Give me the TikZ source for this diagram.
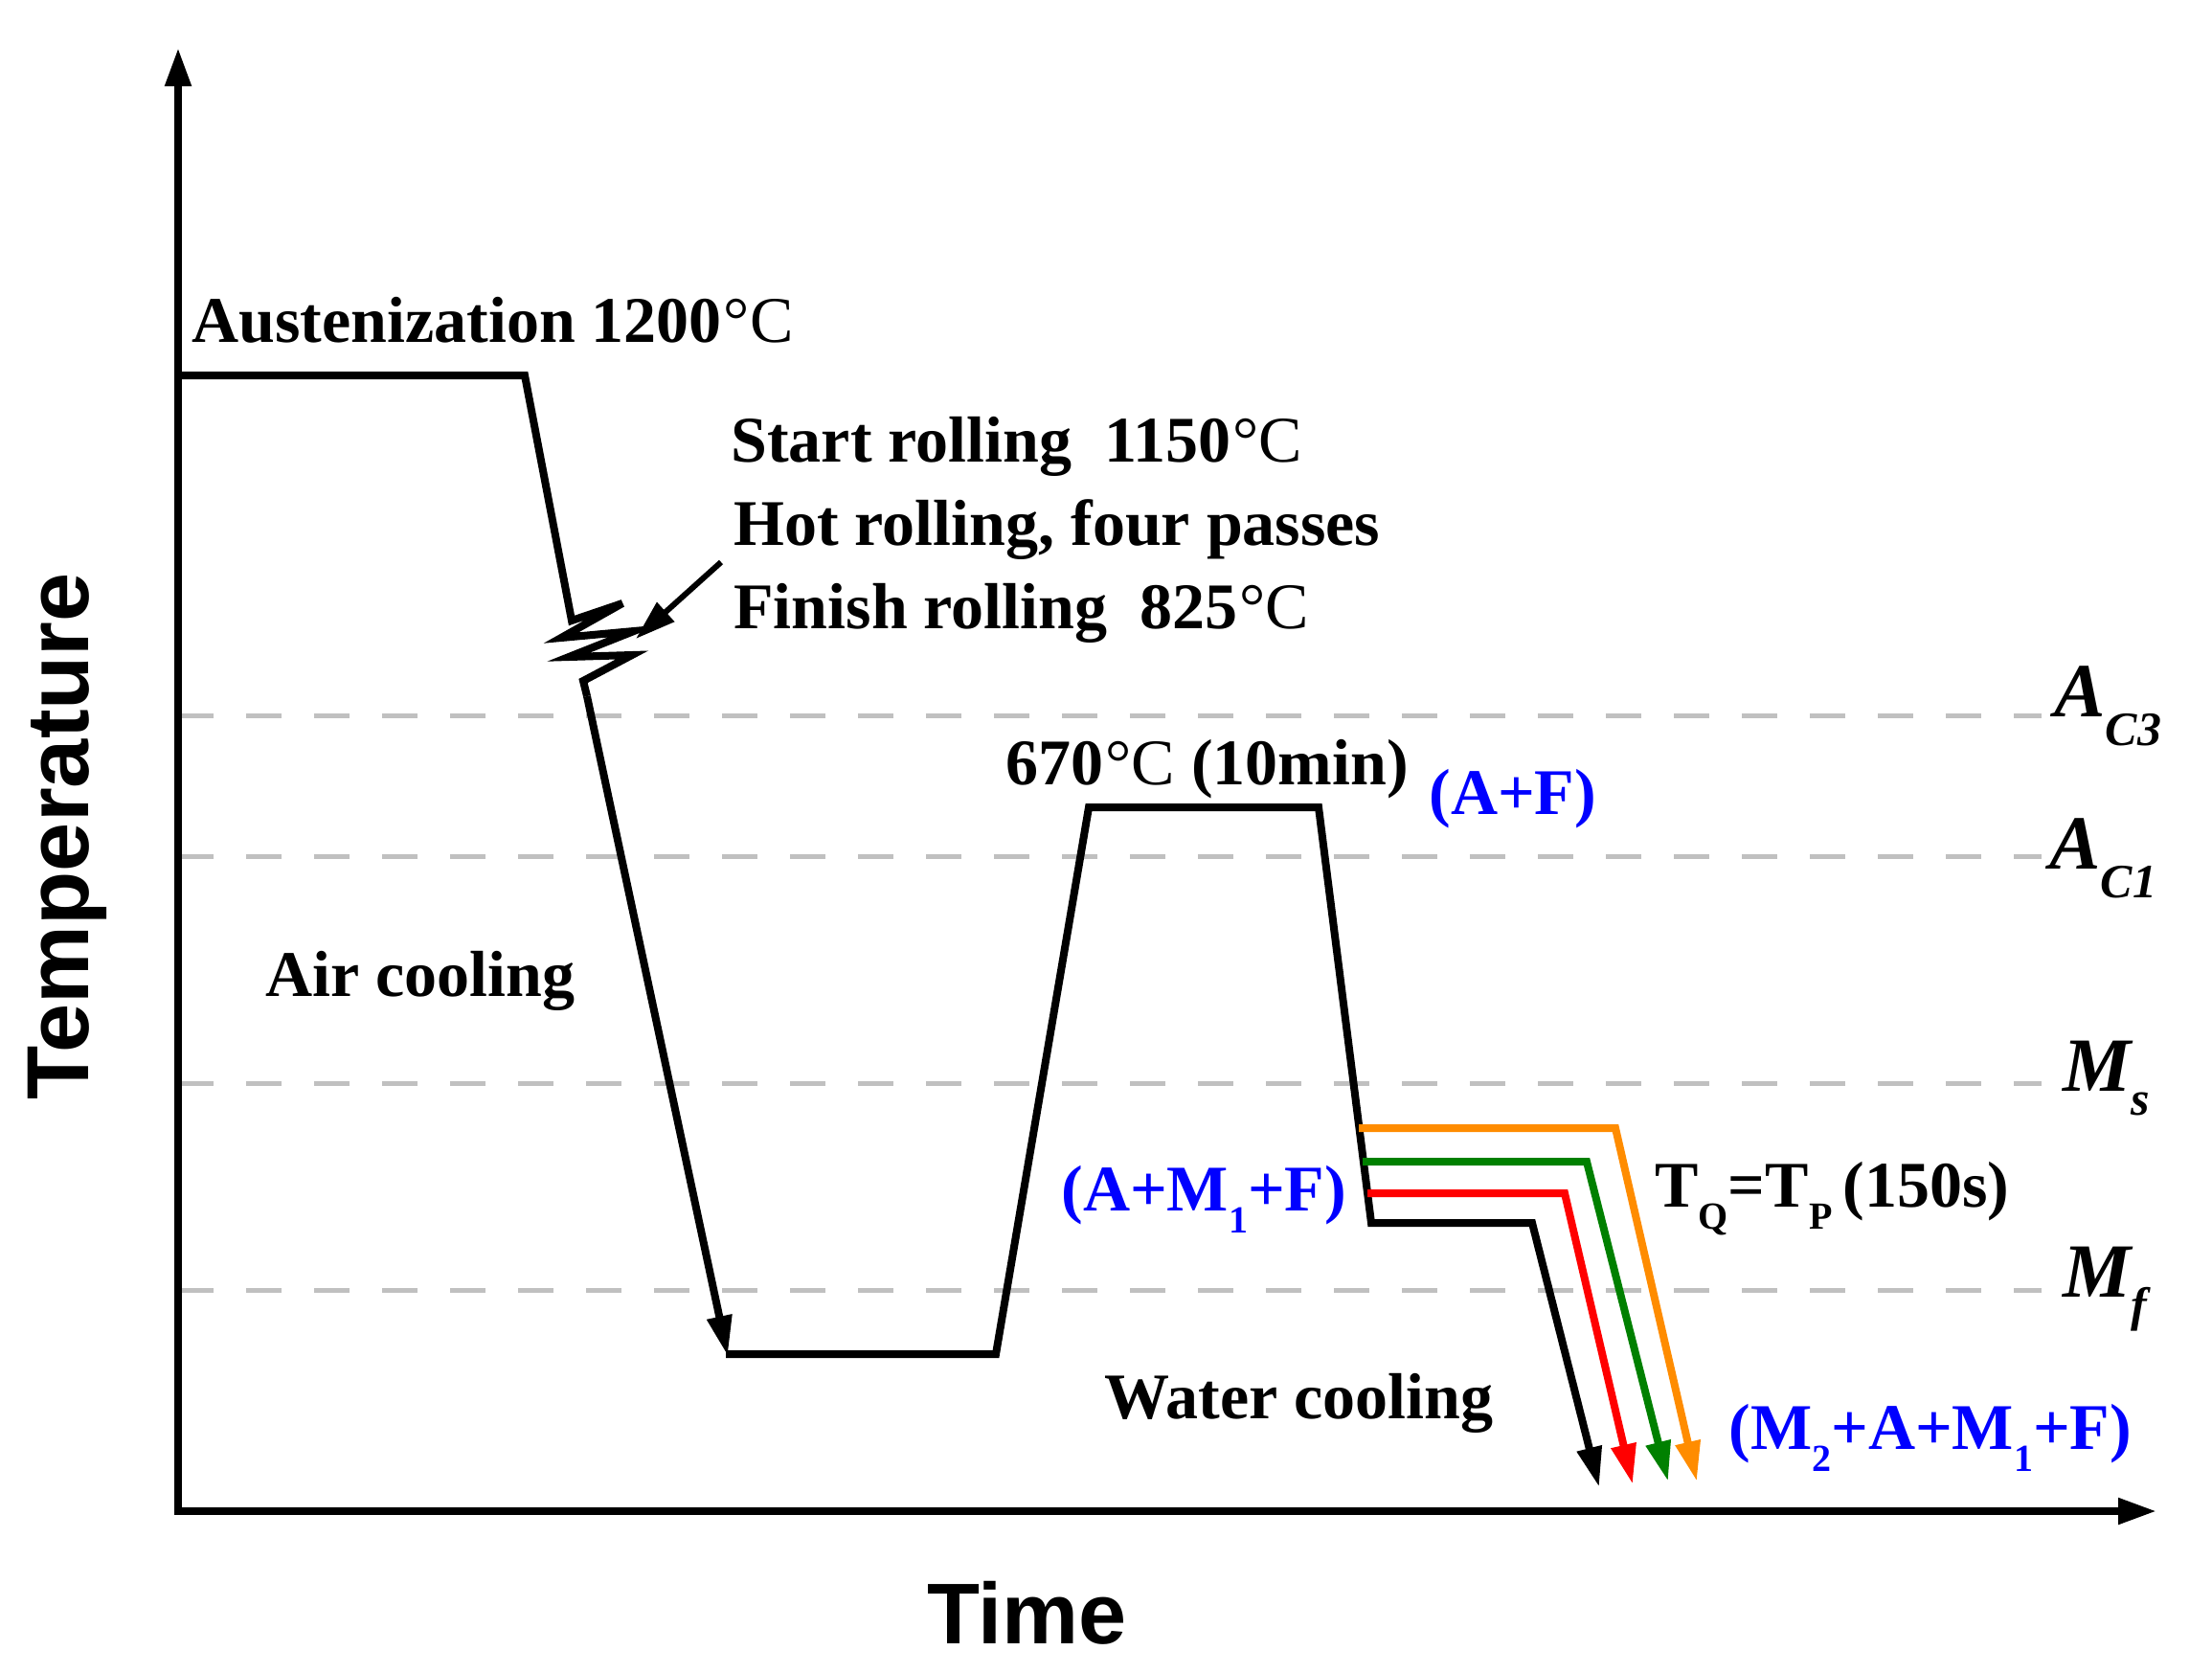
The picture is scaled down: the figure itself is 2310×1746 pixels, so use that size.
\documentclass[tikz,border=0pt]{standalone}
\usepackage{fontspec}
\setmainfont{Liberation Serif}
\setsansfont{Liberation Sans}
\usetikzlibrary{arrows.meta}
\definecolor{isogray}{RGB}{192,192,192}
\definecolor{qorange}{RGB}{255,140,0}
\definecolor{qgreen}{RGB}{0,128,0}
\definecolor{qred}{RGB}{255,0,0}
\definecolor{qblue}{RGB}{0,0,255}
\newcommand\lblfont{\fontsize{34}{40}\selectfont\bfseries}
\newcommand\degC{\kern0.03em{\mdseries\textdegree C}}
\newcommand\sbs[1]{\raisebox{-0.34em}{\fontsize{20}{20}\selectfont #1}}
\newcommand\critA[1]{{\fontsize{40}{44}\selectfont\bfseries\itshape A\raisebox{-15pt}{\fontsize{25}{28}\selectfont #1}}}
\newcommand\critM[1]{{\fontsize{40}{44}\selectfont\bfseries\itshape M\raisebox{-12.5pt}{\fontsize{25}{28}\selectfont #1}}}
\begin{document}
\begin{tikzpicture}[x=0.5pt,y=-0.5pt,
  curve/.style={line width=4pt},
  arr/.style={-{Triangle[length=21pt,width=12.5pt]}},
  axisline/.style={line width=4pt,{Triangle[length=20pt,width=13pt]}-{Triangle[length=20pt,width=13pt]}},
  isoline/.style={isogray,line width=2.5pt,dash pattern=on 18.5pt off 17pt},
  txt/.style={inner sep=0pt,anchor=base west,font=\lblfont},
  phase/.style={txt,text=qblue},
  crit/.style={inner sep=0pt,anchor=base west}]
\useasboundingbox (0,0) rectangle (2310,1746);
% coordinates
\coordinate (o) at (186,1578);
\coordinate (ytop) at (186,50);
\coordinate (xend) at (2252,1578);
% isotherms
\coordinate (ac3a) at (186,747);  \coordinate (ac3b) at (2132,747);
\coordinate (ac1a) at (186,894);  \coordinate (ac1b) at (2132,894);
\coordinate (msa)  at (186,1131); \coordinate (msb)  at (2132,1131);
\coordinate (mfa)  at (186,1347); \coordinate (mfb)  at (2132,1347);
\draw[isoline] (ac3a) -- (ac3b);
\draw[isoline] (ac1a) -- (ac1b);
\draw[isoline] (msa) -- (msb);
\draw[isoline] (mfa) -- (mfb);
% main path
\coordinate (p0) at (186,392);
\coordinate (p1) at (548,392);
\coordinate (z0) at (597,648);
\coordinate (z1) at (650,630);
\coordinate (z2) at (586,666);
\coordinate (z3) at (662,659);
\coordinate (z4) at (594,686);
\coordinate (z5) at (660,684);
\coordinate (z6) at (609,711);
\coordinate (z7) at (613,727);
\coordinate (p2) at (760,1416);
\coordinate (p2b) at (758,1414);
\coordinate (p3) at (1040,1414);
\coordinate (p4) at (1137,843);
\coordinate (p5) at (1377,843);
\coordinate (p6) at (1432,1277);
\coordinate (b1) at (1600,1277);
\coordinate (b2) at (1670,1553);
\draw[curve] (p0) -- (p1) -- (z0) -- (z1) -- (z2) -- (z3) -- (z4) -- (z5) -- (z6) -- (z7);
\draw[curve,arr] (z7) -- (p2);
\draw[curve,arr] (p2b) -- (p3) -- (p4) -- (p5) -- (p6) -- (b1) -- (b2);
% quench-partition variants
\coordinate (o1) at (1419,1178); \coordinate (o2) at (1687,1178); \coordinate (o3) at (1772,1547);
\coordinate (g1) at (1423,1213); \coordinate (g2) at (1657,1213); \coordinate (g3) at (1742,1547);
\coordinate (r1) at (1428,1246); \coordinate (r2) at (1634,1246); \coordinate (r3) at (1705,1550);
\draw[curve,arr,qorange] (o1) -- (o2) -- (o3);
\draw[curve,arr,qgreen] (g1) -- (g2) -- (g3);
\draw[curve,arr,qred] (r1) -- (r2) -- (r3);
% pointer to rolling
\coordinate (ptail) at (753,587);
\coordinate (ptip) at (664,667);
\draw[line width=3pt,-{Triangle[length=21pt,width=13pt]}] (ptail) -- (ptip);
% axes
\draw[axisline] (ytop) -- (o) -- (xend);
% texts
\node[txt] (aus) at (200,357) {Austenization 1200\degC};
\node[txt] (start) at (763,482) {Start rolling\ \ 1150\degC};
\node[txt] (hot) at (766,569) {Hot rolling, four passes};
\node[txt] (finish) at (766,656) {Finish rolling\ \ 825\degC};
\node[txt] (air) at (277,1040) {Air cooling};
\node[txt] (iso) at (1050,819) {670\degC\ (10min)};
\node[phase] (af) at (1492,850) {(A+F)};
\node[phase] (amf) at (1108,1264) {(A+M\sbs{1}+F)};
\node[txt] (tq) at (1728,1260) {T\sbs{Q}=T\sbs{P}\,(150s)};
\node[txt] (water) at (1153,1481) {Water cooling};
\node[phase] (mamf) at (1805,1513) {(M\sbs{2}+A+M\sbs{1}+F)};
\node[crit] (lac3) at (2145,748) {\critA{C3}};
\node[crit] (lac1) at (2140,907) {\critA{C1}};
\node[crit] (lms) at (2154,1139) {\critM{s}};
\node[crit] (lmf) at (2154,1354) {\critM{f}};
\node[inner sep=0pt,anchor=base west,font=\fontsize{45}{50}\selectfont\sffamily\bfseries] (time) at (968,1716) {Time};
\node[inner sep=0pt,anchor=base west,rotate=90,font=\fontsize{46}{50}\selectfont\sffamily\bfseries] (temp) at (92,1149) {Temperature};
\end{tikzpicture}
\end{document}
